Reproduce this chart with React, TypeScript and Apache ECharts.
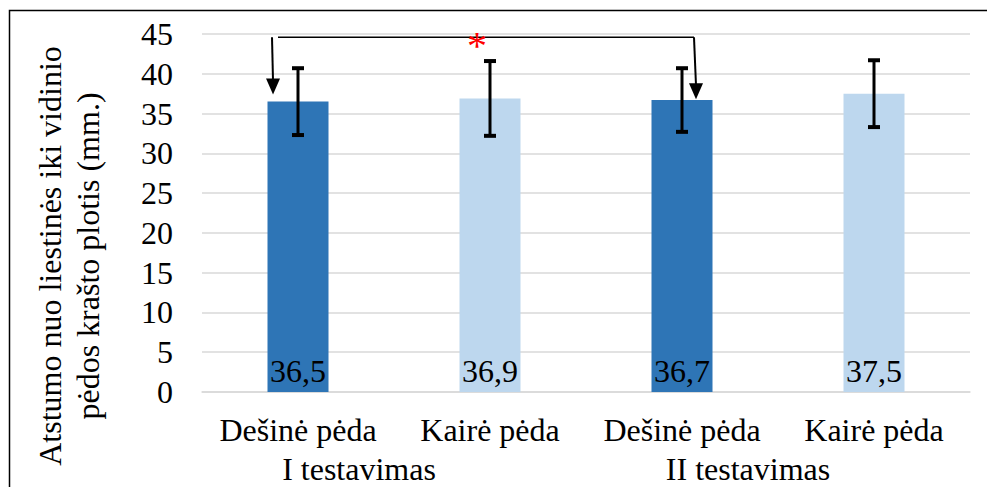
import React, { useEffect, useRef } from "react";
import * as echarts from "echarts";

const categories = ["Dešinė pėda", "Kairė pėda", "Dešinė pėda", "Kairė pėda"];
const groupLabels = ["I testavimas", "II testavimas"];
const means = [36.5, 36.9, 36.7, 37.5];
const errLow = [32.3, 32.2, 32.7, 33.3];
const errHigh = [40.7, 41.6, 40.7, 41.7];
const barColors = ["#2E75B6", "#BDD7EE", "#2E75B6", "#BDD7EE"];
const yTitle = ["Atstumo nuo liestinės iki vidinio", "pėdos krašto plotis (mm.)"];
// bracket: from category, to category, level, left arrow tip, right arrow tip
const bracket = [[0, 2, 44.6, 37.4, 36.8]];

const FAM = "Liberation Serif";
const FS = 32;

export default function App() {
  const ref = useRef<HTMLDivElement>(null);
  useEffect(() => {
    const chart = echarts.init(ref.current!, null, { renderer: "svg" });
    chart.setOption({
      animation: false,
      backgroundColor: "#fff",
      grid: { left: 202, right: 17, top: 34, bottom: 95 },
      xAxis: {
        type: "category",
        data: categories,
        axisLine: { lineStyle: { color: "#d9d9d9", width: 1.5 } },
        axisTick: { show: false },
        axisLabel: { fontFamily: FAM, fontSize: FS, color: "#000", margin: 22, interval: 0, hideOverlap: false },
      },
      yAxis: {
        type: "value",
        min: 0,
        max: 45,
        interval: 5,
        axisLine: { show: false },
        axisTick: { show: false },
        splitLine: { lineStyle: { color: "#d9d9d9", width: 1.5 } },
        axisLabel: { fontFamily: FAM, fontSize: FS, color: "#000", margin: 29 },
      },
      graphic: [
        {
          type: "rect",
          shape: { x: 9.5, y: 10.5, width: 990, height: 490 },
          style: { fill: "none", stroke: "#000", lineWidth: 1.5 },
          silent: true,
        },
        {
          type: "text",
          x: 69,
          y: 256,
          rotation: Math.PI / 2,
          style: {
            text: yTitle.join("\n"),
            font: `${FS}px ${FAM}`,
            fill: "#000",
            align: "center",
            verticalAlign: "middle",
            lineHeight: 38,
          },
        },
        {
          type: "text",
          x: 359,
          y: 469,
          style: { text: groupLabels[0], font: `${FS}px ${FAM}`, fill: "#000", align: "center", verticalAlign: "middle" },
        },
        {
          type: "text",
          x: 748,
          y: 469,
          style: { text: groupLabels[1], font: `${FS}px ${FAM}`, fill: "#000", align: "center", verticalAlign: "middle" },
        },
      ],
      series: [
        {
          type: "bar",
          barWidth: 61,
          data: means.map((v, i) => ({ value: v, itemStyle: { color: barColors[i] } })),
          label: {
            show: true,
            position: "insideBottom",
            distance: 5,
            fontFamily: FAM,
            fontSize: FS,
            color: "#000",
            formatter: (p: any) => String(p.value).replace(".", ","),
          },
        },
        {
          type: "custom",
          data: means.map((_, i) => [i, errLow[i], errHigh[i]]),
          renderItem: (params: any, api: any) => {
            const lo = api.coord([api.value(0), api.value(1)]);
            const hi = api.coord([api.value(0), api.value(2)]);
            const x = lo[0];
            const st = { stroke: "#000", lineWidth: 3 };
            return {
              type: "group",
              children: [
                { type: "line", shape: { x1: x, y1: lo[1], x2: x, y2: hi[1] }, style: st },
                { type: "line", shape: { x1: x - 6, y1: lo[1], x2: x + 6, y2: lo[1] }, style: { stroke: "#000", lineWidth: 4 } },
                { type: "line", shape: { x1: x - 6, y1: hi[1], x2: x + 6, y2: hi[1] }, style: { stroke: "#000", lineWidth: 4 } },
              ],
            };
          },
          z: 5,
        },
        {
          type: "custom",
          data: bracket,
          renderItem: (params: any, api: any) => {
            const a = api.coord([api.value(0), api.value(2)]);
            const b = api.coord([api.value(1), api.value(2)]);
            const tl = api.coord([api.value(0), api.value(3)]);
            const tr = api.coord([api.value(1), api.value(4)]);
            const lx = a[0] - 26;
            const rx = b[0] + 12;
            const y = a[1];
            const ltx = lx + 1;
            const rtx = rx + 2;
            const st = { stroke: "#000", lineWidth: 2 };
            const mid = api.coord([1, api.value(2)]);
            return {
              type: "group",
              children: [
                { type: "line", shape: { x1: lx + 6, y1: y, x2: rx, y2: y }, style: { stroke: "#000", lineWidth: 1.5 } },
                { type: "line", shape: { x1: lx, y1: y, x2: ltx, y2: tl[1] - 14 }, style: st },
                { type: "polygon", shape: { points: [[ltx - 7, tl[1] - 16], [ltx + 7, tl[1] - 16], [ltx, tl[1]]] }, style: { fill: "#000" } },
                { type: "line", shape: { x1: rx, y1: y, x2: rtx, y2: tr[1] - 14 }, style: st },
                { type: "polygon", shape: { points: [[rtx - 7, tr[1] - 16], [rtx + 7, tr[1] - 16], [rtx, tr[1]]] }, style: { fill: "#000" } },
                {
                  type: "text",
                  x: mid[0] - 13,
                  y: y + 8,
                  style: { text: "*", font: `40px ${FAM}`, fill: "#ff0000", align: "center", verticalAlign: "middle" },
                },
              ],
            };
          },
          z: 6,
        },
      ],
    });
    return () => chart.dispose();
  }, []);
  return <div ref={ref} style={{ position: "absolute", left: 0, top: 0, width: 987, height: 487 }} />;
}
